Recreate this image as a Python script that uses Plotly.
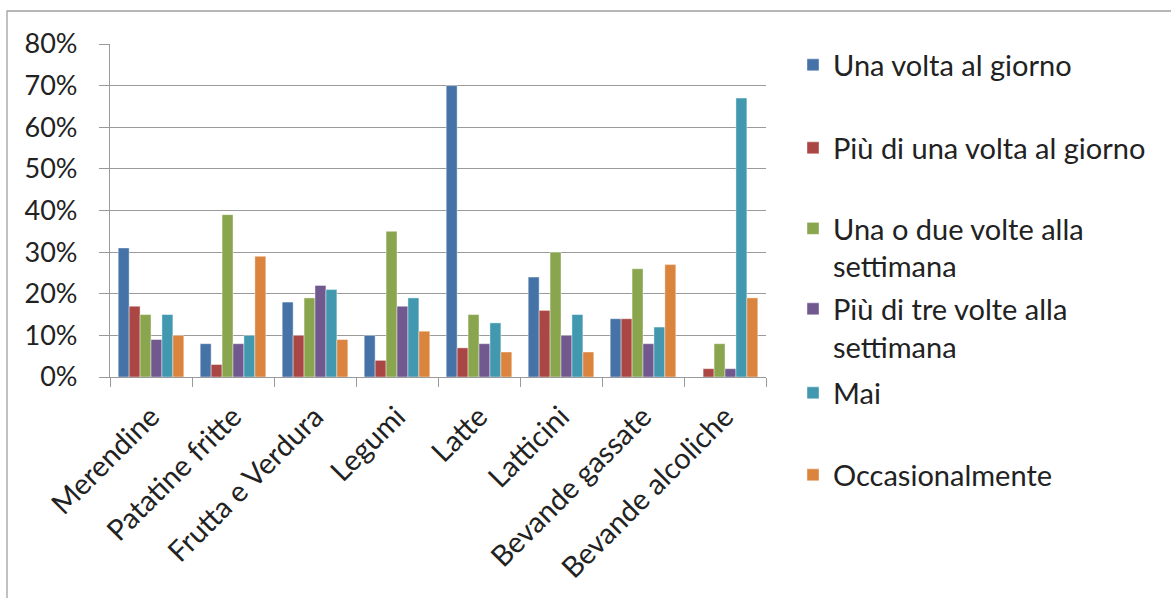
import plotly.graph_objects as go

categories = ["Merendine", "Patatine fritte", "Frutta e Verdura", "Legumi",
              "Latte", "Latticini", "Bevande gassate", "Bevande alcoliche"]

series_names = ["Una volta al giorno", "Più di una volta al giorno",
                "Una o due volte alla<br>settimana", "Più di tre volte alla<br>settimana",
                "Mai", "Occasionalmente"]

una_volta = [0.31, 0.08, 0.18, 0.10, 0.70, 0.24, 0.14, 0.00]
piu_una_volta = [0.17, 0.03, 0.10, 0.04, 0.07, 0.16, 0.14, 0.02]
una_due_sett = [0.15, 0.39, 0.19, 0.35, 0.15, 0.30, 0.26, 0.08]
piu_tre_sett = [0.09, 0.08, 0.22, 0.17, 0.08, 0.10, 0.08, 0.02]
mai = [0.15, 0.10, 0.21, 0.19, 0.13, 0.15, 0.12, 0.67]
occasionalmente = [0.10, 0.29, 0.09, 0.11, 0.06, 0.06, 0.27, 0.19]

series_values = [una_volta, piu_una_volta, una_due_sett, piu_tre_sett, mai, occasionalmente]
colors = ["#4572A7", "#AA4643", "#89A54E", "#71588F", "#4198AF", "#DB843D"]

FONT = "Lato"
TXT = "#222222"
GRID = "#9a9a9a"

fig = go.Figure()
legend_ids = ["legend", "legend2", "legend3", "legend4", "legend5", "legend6"]
for name, vals, col, lid in zip(series_names, series_values, colors, legend_ids):
    fig.add_trace(go.Bar(
        x=categories, y=vals, name=name, legend=lid,
        marker=dict(color=col, line=dict(color="rgba(255,255,255,0.6)", width=0.7)),
    ))

W, H = 1171, 598
L, R, T, B = 110, 766, 44, 377
pw, ph = R - L, B - T

def py(y_px):
    return (B - y_px) / ph

def px(x_px):
    return (x_px - L) / pw

legend_centers = [65, 148, 247.5, 328, 393, 475]
layout_legends = {}
for lid, yc in zip(legend_ids, legend_centers):
    layout_legends[lid] = dict(
        x=px(793), y=py(yc), xanchor="left", yanchor="middle",
        font=dict(family=FONT, size=29, color=TXT),
        bgcolor="rgba(0,0,0,0)", borderwidth=0, valign="top",
        itemclick=False, itemdoubleclick=False,
    )

fig.update_layout(
    width=W, height=H,
    margin=dict(l=L, r=W - R, t=T, b=H - B),
    paper_bgcolor="white", plot_bgcolor="white",
    barmode="group", bargap=0.2, bargroupgap=0,
    font=dict(family=FONT, size=28, color=TXT),
    showlegend=True,
    **layout_legends,
)

fig.update_yaxes(
    range=[0, 0.8], dtick=0.1, tickformat=".0%",
    showgrid=True, gridcolor=GRID, gridwidth=1.3,
    showline=True, linecolor=GRID, linewidth=1.3,
    ticks="outside", ticklen=10, tickcolor=GRID, tickwidth=1.3,
    ticklabelstandoff=16,
    tickfont=dict(family=FONT, size=27, color=TXT),
    zeroline=False, fixedrange=True,
)
fig.update_xaxes(
    type="category", tickangle=-45,
    showline=True, linecolor=GRID, linewidth=1.3,
    ticks="outside", ticklen=9, tickcolor=GRID, tickwidth=1.3,
    tickson="boundaries", ticklabelstandoff=10,
    tickfont=dict(family=FONT, size=29, color=TXT),
    showgrid=False, fixedrange=True,
)

# outer chart border
fig.add_shape(type="rect", xref="paper", yref="paper",
              x0=px(7), x1=px(1180), y0=py(610), y1=py(11),
              line=dict(color="#a0a0a0", width=1.3), fillcolor="rgba(0,0,0,0)",
              layer="below")

fig.write_html("out.html")
